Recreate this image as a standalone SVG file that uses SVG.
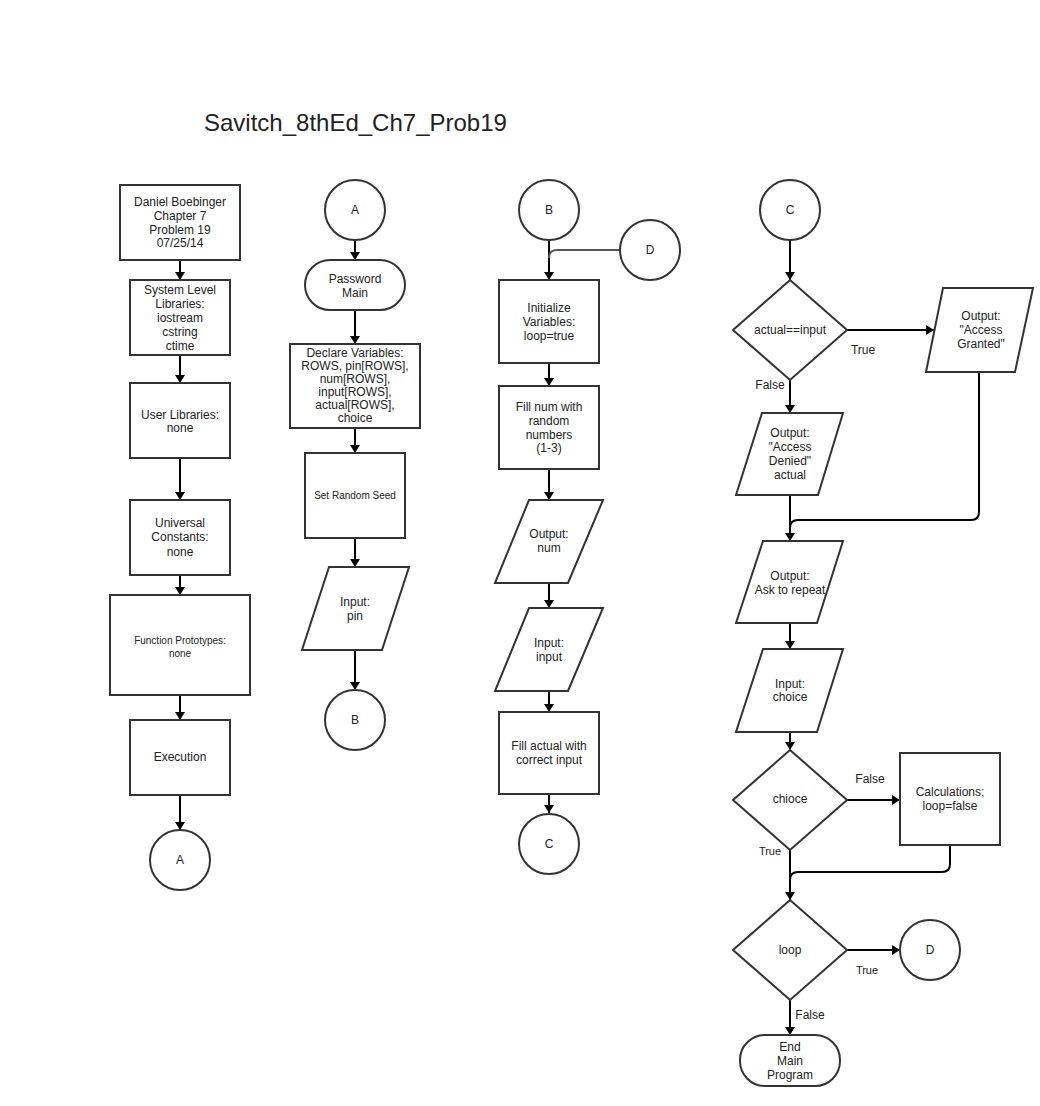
<svg xmlns="http://www.w3.org/2000/svg" width="1040" height="1106" viewBox="0 0 1040 1106">
<defs>
<style>
.n{fill:#fff;stroke:#333;stroke-width:2}
.c{fill:none;stroke:#000;stroke-width:2}
.cg{fill:none;stroke:#555;stroke-width:2}
text{font-family:"Liberation Sans",Arial,sans-serif;fill:#222;text-anchor:middle;font-size:12px}
.s{font-size:10px}
.l{font-size:11px}
.t{font-size:24px;text-anchor:start}
</style>
<marker id="ah" viewBox="0 0 8 12" refX="8" refY="6" markerWidth="8" markerHeight="12" markerUnits="userSpaceOnUse" orient="auto">
<path d="M0,1 L8,6 L0,11 z" fill="#000"/>
</marker>
</defs>
<rect width="1040" height="1106" fill="#fff"/>
<text class="t" x="204" y="131">Savitch_8thEd_Ch7_Prob19</text>

<g id="connectors">
<path class="c" d="M180,260 V280" marker-end="url(#ah)"/>
<path class="c" d="M180,355 V383" marker-end="url(#ah)"/>
<path class="c" d="M180,458 V500" marker-end="url(#ah)"/>
<path class="c" d="M180,575 V595" marker-end="url(#ah)"/>
<path class="c" d="M180,695 V720" marker-end="url(#ah)"/>
<path class="c" d="M180,795 V830" marker-end="url(#ah)"/>

<path class="c" d="M355,240 V260" marker-end="url(#ah)"/>
<path class="c" d="M355,310 V344" marker-end="url(#ah)"/>
<path class="c" d="M355,428 V453" marker-end="url(#ah)"/>
<path class="c" d="M355,538 V567" marker-end="url(#ah)"/>
<path class="c" d="M355,650 V690" marker-end="url(#ah)"/>

<path class="c" d="M549,240 V280" marker-end="url(#ah)"/>
<path class="cg" d="M620,250 H557 Q549,250 549,258"/>
<path class="c" d="M549,363 V386" marker-end="url(#ah)"/>
<path class="c" d="M549,469 V500" marker-end="url(#ah)"/>
<path class="c" d="M549,583 V608" marker-end="url(#ah)"/>
<path class="c" d="M549,691 V712" marker-end="url(#ah)"/>
<path class="c" d="M549,794 V813" marker-end="url(#ah)"/>

<path class="c" d="M790,240 V280" marker-end="url(#ah)"/>
<path class="c" d="M847,330 H934" marker-end="url(#ah)"/>
<path class="c" d="M790,380 V413" marker-end="url(#ah)"/>
<path class="c" d="M979,372 V512 Q979,520 971,520 H798 Q790,520 790,528"/>
<path class="c" d="M790,495 V541" marker-end="url(#ah)"/>
<path class="c" d="M790,623 V649" marker-end="url(#ah)"/>
<path class="c" d="M790,732 V750" marker-end="url(#ah)"/>
<path class="c" d="M847,800 H900" marker-end="url(#ah)"/>
<path class="c" d="M790,850 V900" marker-end="url(#ah)"/>
<path class="c" d="M950,845 V864 Q950,872 942,872 H798 Q790,872 790,880"/>
<path class="c" d="M847,950 H900" marker-end="url(#ah)"/>
<path class="c" d="M790,1000 V1035" marker-end="url(#ah)"/>

<text x="863" y="354">True</text>
<text x="770" y="389">False</text>
<text x="870" y="783">False</text>
<text x="770" y="855" class="l">True</text>
<text x="867" y="974" class="l">True</text>
<text x="810" y="1019">False</text>
</g>

<!-- Column 1 -->
<g id="n_header">
<rect class="n" x="120" y="185" width="120" height="75"/>
<text x="180" y="206">Daniel Boebinger</text>
<text x="180" y="220">Chapter 7</text>
<text x="180" y="234">Problem 19</text>
<text x="180" y="247">07/25/14</text>
</g>
<g id="n_syslib">
<rect class="n" x="130" y="280" width="100" height="75"/>
<text x="180" y="294">System Level</text>
<text x="180" y="308">Libraries:</text>
<text x="180" y="322">iostream</text>
<text x="180" y="336">cstring</text>
<text x="180" y="350">ctime</text>
</g>
<g id="n_userlib">
<rect class="n" x="130" y="383" width="100" height="75"/>
<text x="180" y="419">User Libraries:</text>
<text x="180" y="432">none</text>
</g>
<g id="n_const">
<rect class="n" x="130" y="500" width="100" height="75"/>
<text x="180" y="527">Universal</text>
<text x="180" y="541">Constants:</text>
<text x="180" y="556">none</text>
</g>
<g id="n_proto">
<rect class="n" x="110" y="595" width="140" height="100"/>
<text class="s" x="180" y="644">Function Prototypes:</text>
<text class="s" x="180" y="657">none</text>
</g>
<g id="n_exec">
<rect class="n" x="130" y="720" width="100" height="75"/>
<text x="180" y="761">Execution</text>
</g>
<g id="n_A1">
<circle class="n" cx="180" cy="860" r="30"/>
<text x="180" y="864">A</text>
</g>

<!-- Column 2 -->
<g id="n_A2">
<circle class="n" cx="355" cy="210" r="30"/>
<text x="355" y="214">A</text>
</g>
<g id="n_main">
<rect class="n" x="305" y="260" width="100" height="50" rx="25" ry="25"/>
<text x="355" y="283">Password</text>
<text x="355" y="297">Main</text>
</g>
<g id="n_declare">
<rect class="n" x="290" y="344" width="130" height="84"/>
<text x="355" y="357">Declare Variables:</text>
<text x="355" y="370">ROWS, pin[ROWS],</text>
<text x="355" y="383">num[ROWS],</text>
<text x="355" y="396">input[ROWS],</text>
<text x="355" y="409">actual[ROWS],</text>
<text x="355" y="422">choice</text>
</g>
<g id="n_seed">
<rect class="n" x="305" y="453" width="100" height="85"/>
<text class="s" x="355" y="499">Set Random Seed</text>
</g>
<g id="n_inpin">
<path class="n" d="M329,567 H409 L382,650 H302 Z"/>
<text x="355" y="606">Input:</text>
<text x="355" y="620">pin</text>
</g>
<g id="n_B1">
<circle class="n" cx="355" cy="720" r="30"/>
<text x="355" y="724">B</text>
</g>

<!-- Column 3 -->
<g id="n_B2">
<circle class="n" cx="549" cy="210" r="30"/>
<text x="549" y="214">B</text>
</g>
<g id="n_D1">
<circle class="n" cx="650" cy="250" r="30"/>
<text x="650" y="254">D</text>
</g>
<g id="n_init">
<rect class="n" x="499" y="280" width="100" height="83"/>
<text x="549" y="312">Initialize</text>
<text x="549" y="326">Variables:</text>
<text x="549" y="340">loop=true</text>
</g>
<g id="n_fillnum">
<rect class="n" x="499" y="386" width="100" height="83"/>
<text x="549" y="411">Fill num with</text>
<text x="549" y="425">random</text>
<text x="549" y="439">numbers</text>
<text x="549" y="452">(1-3)</text>
</g>
<g id="n_outnum">
<path class="n" d="M529,500 H603 L568,583 H495 Z"/>
<text x="549" y="538">Output:</text>
<text x="549" y="552">num</text>
</g>
<g id="n_ininput">
<path class="n" d="M529,608 H603 L568,691 H495 Z"/>
<text x="549" y="647">Input:</text>
<text x="549" y="661">input</text>
</g>
<g id="n_fillactual">
<rect class="n" x="499" y="712" width="100" height="82"/>
<text x="549" y="750">Fill actual with</text>
<text x="549" y="764">correct input</text>
</g>
<g id="n_C1">
<circle class="n" cx="549" cy="844" r="30"/>
<text x="549" y="848">C</text>
</g>

<!-- Column 4 -->
<g id="n_C2">
<circle class="n" cx="790" cy="210" r="30"/>
<text x="790" y="214">C</text>
</g>
<g id="n_cmp">
<path class="n" d="M790,280 L847,330 L790,380 L733,330 Z"/>
<text x="790" y="334">actual==input</text>
</g>
<g id="n_granted">
<path class="n" d="M943,288 H1033 L1015,372 H926 Z"/>
<text x="981" y="320">Output:</text>
<text x="981" y="334">"Access</text>
<text x="981" y="348">Granted"</text>
</g>
<g id="n_denied">
<path class="n" d="M762,413 H843 L818,495 H736 Z"/>
<text x="790" y="437">Output:</text>
<text x="790" y="451">"Access</text>
<text x="790" y="465">Denied"</text>
<text x="790" y="479">actual</text>
</g>
<g id="n_ask">
<path class="n" d="M763,541 H843 L817,623 H736 Z"/>
<text x="790" y="580">Output:</text>
<text x="790" y="594">Ask to repeat</text>
</g>
<g id="n_inchoice">
<path class="n" d="M763,649 H843 L817,732 H736 Z"/>
<text x="790" y="688">Input:</text>
<text x="790" y="701">choice</text>
</g>
<g id="n_chioce">
<path class="n" d="M790,750 L847,800 L790,850 L733,800 Z"/>
<text x="790" y="803">chioce</text>
</g>
<g id="n_calc">
<rect class="n" x="900" y="753" width="100" height="92"/>
<text x="950" y="796">Calculations;</text>
<text x="950" y="810">loop=false</text>
</g>
<g id="n_loop">
<path class="n" d="M790,900 L847,950 L790,1000 L733,950 Z"/>
<text x="790" y="954">loop</text>
</g>
<g id="n_D2">
<circle class="n" cx="930" cy="950" r="30"/>
<text x="930" y="954">D</text>
</g>
<g id="n_end">
<rect class="n" x="740" y="1035" width="100" height="51" rx="25" ry="25"/>
<text x="790" y="1051">End</text>
<text x="790" y="1065">Main</text>
<text x="790" y="1079">Program</text>
</g>
</svg>
